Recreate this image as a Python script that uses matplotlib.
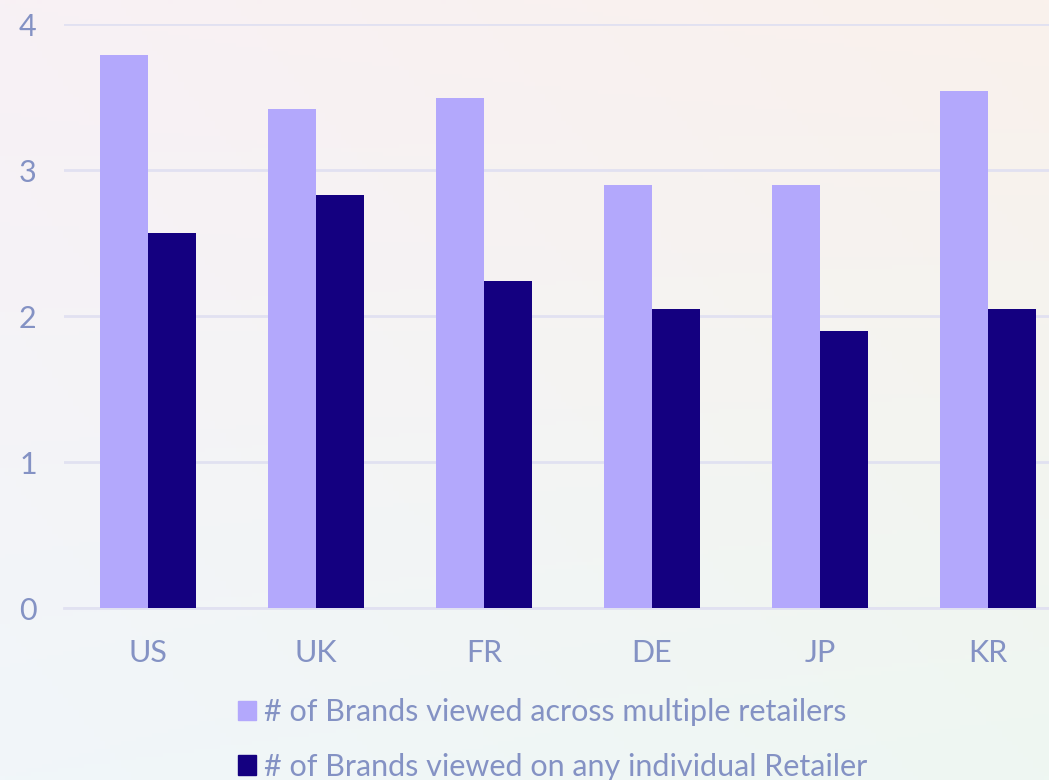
import numpy as np
import matplotlib.pyplot as plt
from matplotlib.patches import Patch

# Brands viewed per shopper, by market
markets = ["US", "UK", "FR", "DE", "JP", "KR"]
across_retailers = [3.79, 3.42, 3.49, 2.90, 2.90, 3.54]
single_retailer = [2.57, 2.83, 2.24, 2.05, 1.90, 2.05]
series_labels = ["# of Brands viewed across multiple retailers",
                 "# of Brands viewed on any individual Retailer"]

light = "#b3a8fc"
dark = "#140080"
text_col = "#8492c4"
grid_col = "#e1e1f1"

plt.rcParams["font.family"] = ["Lato", "DejaVu Sans"]

fig = plt.figure(figsize=(10.49, 7.80), dpi=100)

# soft pastel backdrop
bg = fig.add_axes([0, 0, 1, 1], zorder=-10)
gx, gy = np.meshgrid(np.linspace(0, 1, 200), np.linspace(0, 1, 200))
tl = np.array([248, 241, 245]) / 255
tr = np.array([250, 241, 236]) / 255
bl = np.array([241, 246, 250]) / 255
br = np.array([238, 247, 242]) / 255
img = ((1 - gx)[..., None] * (1 - gy)[..., None] * tl + gx[..., None] * (1 - gy)[..., None] * tr
       + (1 - gx)[..., None] * gy[..., None] * bl + gx[..., None] * gy[..., None] * br)
bg.imshow(img, aspect="auto", extent=[0, 1, 0, 1])
bg.axis("off")

ax = fig.add_axes([64 / 1049, 172 / 780, 1008 / 1049, 584 / 780])
ax.patch.set_alpha(0)

x = np.arange(len(markets))
w = 0.2857
ax.bar(x - w / 2, across_retailers, w, color=light, zorder=3)
ax.bar(x + w / 2, single_retailer, w, color=dark, zorder=3)

ax.set_xlim(-0.5, 5.5)
ax.set_ylim(0, 4)
ax.set_yticks([0, 1, 2, 3, 4])
ax.set_xticks(x)
ax.set_xticklabels(markets)
ax.yaxis.grid(True, color=grid_col, linewidth=2, zorder=0)
ax.tick_params(length=0, labelsize=22, colors=text_col)
ax.tick_params(axis="x", pad=22)
ax.tick_params(axis="y", pad=26)
for lbl in ax.get_yticklabels():
    lbl.set_horizontalalignment("center")
for s in ["top", "right", "left"]:
    ax.spines[s].set_visible(False)
ax.spines["bottom"].set_color(grid_col)
ax.spines["bottom"].set_linewidth(2)

handles = [Patch(color=light), Patch(color=dark)]
fig.legend(handles, series_labels, loc="upper left",
           bbox_to_anchor=(238 / 1049, 1 - 698 / 780), frameon=False,
           borderpad=0, borderaxespad=0,
           fontsize=22, labelcolor=text_col, handlelength=0.6, handleheight=0.6,
           handletextpad=0.25, labelspacing=0.88)

fig.savefig("out.png", dpi=100)
